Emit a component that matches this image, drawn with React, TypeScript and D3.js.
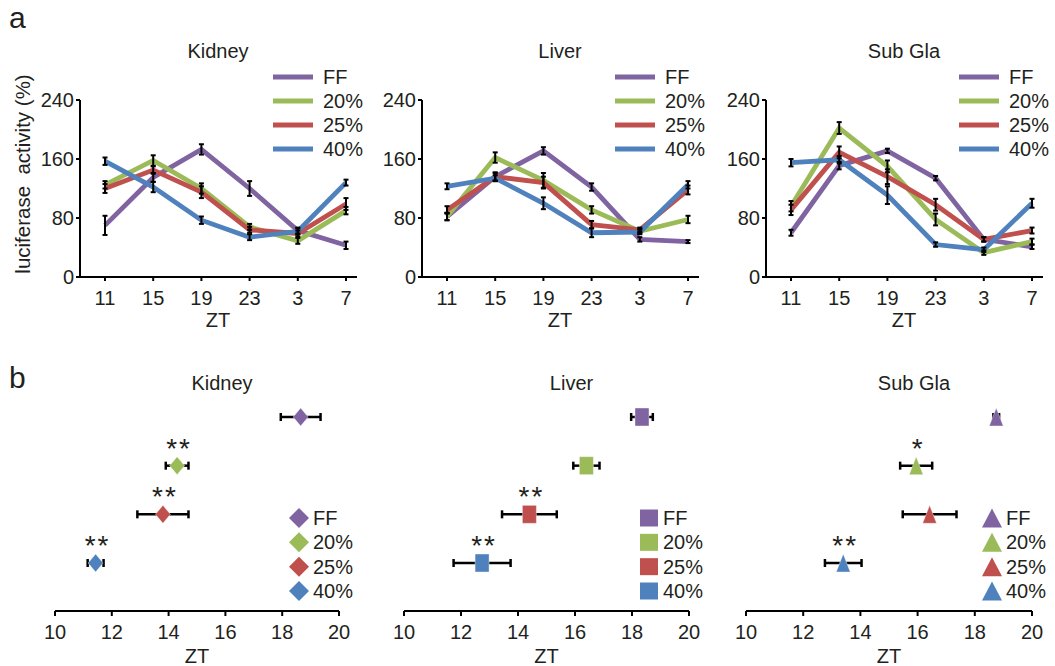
import React from "react";
import * as d3 from "d3";

const timePoints = ["11", "15", "19", "23", "3", "7"];
const groups = ["FF", "20%", "25%", "40%"];
const groupColors = ["#8064A2", "#9BBB59", "#C0504D", "#4F81BD"];
const yTicks = [0, 80, 160, 240];
const ztTicks = [10, 12, 14, 16, 18, 20];
const tissues = ["Kidney", "Liver", "Sub Gla"];

// Panel a: luciferase activity (%) per group, per time point
const kidneyMean = [
  [70, 135, 173, 120, 63, 43],
  [125, 158, 120, 68, 49, 90],
  [120, 145, 115, 64, 59, 99],
  [157, 122, 77, 54, 62, 128],
];
const kidneyErr = [
  [13, 6, 7, 10, 4, 5],
  [5, 7, 7, 4, 4, 5],
  [6, 5, 8, 4, 4, 8],
  [5, 7, 5, 4, 4, 4],
];
const liverMean = [
  [82, 136, 171, 122, 51, 48],
  [82, 162, 131, 91, 62, 78],
  [91, 136, 128, 71, 64, 118],
  [123, 134, 100, 60, 61, 125],
];
const liverErr = [
  [5, 6, 5, 5, 3, 2],
  [5, 7, 10, 5, 3, 5],
  [5, 5, 8, 5, 3, 6],
  [4, 4, 8, 6, 3, 5],
];
const subGlaMean = [
  [60, 151, 171, 134, 51, 41],
  [96, 202, 150, 78, 33, 48],
  [91, 169, 136, 98, 51, 63],
  [155, 159, 111, 44, 37, 100],
];
const subGlaErr = [
  [4, 5, 3, 3, 3, 3],
  [7, 8, 8, 8, 3, 4],
  [7, 8, 10, 8, 3, 4],
  [5, 5, 12, 3, 3, 6],
];

// Panel b: peak phase (ZT) per group
const kidneyPhase = [18.65, 14.3, 13.8, 11.43];
const kidneyPhaseErr = [0.7, 0.4, 0.9, 0.28];
const kidneySig = ["", "**", "**", "**"];
const liverPhase = [18.35, 16.4, 14.4, 12.74];
const liverPhaseErr = [0.38, 0.46, 0.96, 1.0];
const liverSig = ["", "", "**", "**"];
const subGlaPhase = [18.75, 15.95, 16.42, 13.4];
const subGlaPhaseErr = [0.1, 0.56, 0.94, 0.64];
const subGlaSig = ["", "*", "", "**"];

const FONT = "'Liberation Sans', Arial, Helvetica, sans-serif";
const TXT = "#231F20";
const FS = 20;

const topData = [
  { mean: kidneyMean, err: kidneyErr },
  { mean: liverMean, err: liverErr },
  { mean: subGlaMean, err: subGlaErr },
];
const botData = [
  { phase: kidneyPhase, err: kidneyPhaseErr, sig: kidneySig, shape: "diamond" },
  { phase: liverPhase, err: liverPhaseErr, sig: liverSig, shape: "square" },
  { phase: subGlaPhase, err: subGlaPhaseErr, sig: subGlaSig, shape: "triangle" },
];

function markerPath(shape: string, cx: number, cy: number, big: boolean) {
  if (shape === "diamond") {
    const hw = big ? 10 : 7.5, hh = big ? 10 : 9;
    return `M${cx},${cy - hh}L${cx + hw},${cy}L${cx},${cy + hh}L${cx - hw},${cy}Z`;
  }
  if (shape === "triangle") {
    const hw = big ? 10 : 7, hh = big ? 9.5 : 9;
    return `M${cx},${cy - hh}L${cx + hw},${cy + hh}L${cx - hw},${cy + hh}Z`;
  }
  const hw = big ? 9 : 7, hh = big ? 8.5 : 9;
  return `M${cx - hw},${cy - hh}h${2 * hw}v${2 * hh}h${-2 * hw}Z`;
}

function TopPanel({ idx, ax }: { idx: number; ax: number }) {
  const y = d3.scaleLinear().domain([0, 240]).range([277, 100]);
  const x = d3.scalePoint<string>().domain(timePoints).range([ax + 25, ax + 266]);
  const line = d3
    .line<number>()
    .x((_, i) => x(timePoints[i]) as number)
    .y((v) => y(v));
  const { mean, err } = topData[idx];
  const legX = ax + 193;
  const legY = d3.scalePoint<string>().domain(groups).range([77, 149]);
  return (
    <g>
      <text x={ax + 138} y={58} fontSize={FS} textAnchor="middle" fill={TXT}>
        {tissues[idx]}
      </text>
      {mean.map((s, g) => (
        <path key={g} d={line(s) || ""} fill="none" stroke={groupColors[g]} strokeWidth={4.8} strokeLinejoin="miter" />
      ))}
      {mean.map((s, g) =>
        s.map((v, i) => {
          const cx = x(timePoints[i]) as number;
          const y1 = y(v + err[g][i]);
          const y2 = y(v - err[g][i]);
          return (
            <g key={`${g}-${i}`} stroke="#000" strokeWidth={2}>
              <line x1={cx} x2={cx} y1={y1} y2={y2} />
              <line x1={cx - 2.5} x2={cx + 2.5} y1={y1} y2={y1} />
              <line x1={cx - 2.5} x2={cx + 2.5} y1={y2} y2={y2} />
            </g>
          );
        })
      )}
      <line x1={ax} x2={ax} y1={y(240)} y2={y(0)} stroke="#000" strokeWidth={2} />
      <line x1={ax} x2={ax + 277} y1={y(0)} y2={y(0)} stroke="#000" strokeWidth={2} />
      {yTicks.map((t) => (
        <g key={t}>
          <line x1={ax - 4} x2={ax} y1={y(t)} y2={y(t)} stroke="#000" strokeWidth={2} />
          <text x={ax - 6} y={y(t) + 7} fontSize={FS} textAnchor="end" fill={TXT}>
            {t}
          </text>
        </g>
      ))}
      {timePoints.map((t) => (
        <g key={t}>
          <line x1={x(t)} x2={x(t)} y1={y(0)} y2={y(0) + 4} stroke="#000" strokeWidth={2} />
          <text x={x(t)} y={y(0) + 28} fontSize={FS} textAnchor="middle" fill={TXT}>
            {t}
          </text>
        </g>
      ))}
      <text x={ax + 138} y={327} fontSize={FS} textAnchor="middle" fill={TXT}>
        ZT
      </text>
      {groups.map((g, i) => (
        <g key={g}>
          <line x1={legX} x2={legX + 40} y1={legY(g)} y2={legY(g)} stroke={groupColors[i]} strokeWidth={5} />
          <text x={legX + 50} y={(legY(g) as number) + 7} fontSize={FS} fill={TXT}>
            {g}
          </text>
        </g>
      ))}
    </g>
  );
}

function BottomPanel({ idx, x0, x1 }: { idx: number; x0: number; x1: number }) {
  const x = d3.scaleLinear().domain([10, 20]).range([x0, x1]);
  const rowY = d3.scalePoint<string>().domain(groups).range([417, 563]);
  const legY = d3.scalePoint<string>().domain(groups).range([518, 591]);
  const { phase, err, sig, shape } = botData[idx];
  const axY = 611;
  const legX = x1 - 40;
  return (
    <g>
      <text x={(x0 + x1) / 2 + 25} y={390} fontSize={FS} textAnchor="middle" fill={TXT}>
        {tissues[idx]}
      </text>
      {phase.map((p, g) => {
        const cy = rowY(groups[g]) as number;
        const xa = x(p - err[g]);
        const xb = x(p + err[g]);
        return (
          <g key={g}>
            <g stroke="#000" strokeWidth={2.5}>
              <line x1={xa} x2={xb} y1={cy} y2={cy} />
              <line x1={xa} x2={xa} y1={cy - 4} y2={cy + 4} />
              <line x1={xb} x2={xb} y1={cy - 4} y2={cy + 4} />
            </g>
            <path d={markerPath(shape, x(p), cy, false)} fill={groupColors[g]} stroke="#fff" strokeOpacity={0.5} strokeWidth={0.8} />
            {sig[g] ? (
              <text
                x={x(p) + 2}
                y={cy - 8}
                fontSize={28}
                textAnchor="middle"
                fill={TXT}
                letterSpacing={2}
              >
                {sig[g]}
              </text>
            ) : null}
          </g>
        );
      })}
      <line x1={x0} x2={x1} y1={axY} y2={axY} stroke="#000" strokeWidth={2} />
      {ztTicks.map((t) => (
        <g key={t}>
          <line x1={x(t)} x2={x(t)} y1={axY} y2={axY + 5} stroke="#000" strokeWidth={2} />
          <text x={x(t)} y={axY + 28} fontSize={FS} textAnchor="middle" fill={TXT}>
            {t}
          </text>
        </g>
      ))}
      <text x={(x0 + x1) / 2} y={663} fontSize={FS} textAnchor="middle" fill={TXT}>
        ZT
      </text>
      {groups.map((g, i) => (
        <g key={g}>
          <path d={markerPath(shape, legX, legY(g) as number, true)} fill={groupColors[i]} />
          <text x={legX + 14} y={(legY(g) as number) + 7} fontSize={FS} fill={TXT}>
            {g}
          </text>
        </g>
      ))}
    </g>
  );
}

export default function App() {
  const topAxes = [80, 422, 766];
  const botRanges = [
    [55, 339],
    [404, 689],
    [746, 1032],
  ];
  return (
    <svg
      width={1055}
      height={666}
      style={{ position: "absolute", left: 0, top: 0, fontFamily: FONT }}
      fontFamily={FONT}
    >
      <rect width={1055} height={666} fill="#fff" />
      <text x={9} y={28} fontSize={30} fill={TXT}>a</text>
      <text x={9} y={388} fontSize={30} fill={TXT}>b</text>
      <text
        transform="translate(30,174) rotate(-90)"
        fontSize={20.5}
        textAnchor="middle"
        fill={TXT}
        style={{ whiteSpace: "pre" }}
      >
        {"luciferase  activity (%)"}
      </text>
      {topAxes.map((ax, i) => (
        <TopPanel key={i} idx={i} ax={ax} />
      ))}
      {botRanges.map((r, i) => (
        <BottomPanel key={i} idx={i} x0={r[0]} x1={r[1]} />
      ))}
    </svg>
  );
}
